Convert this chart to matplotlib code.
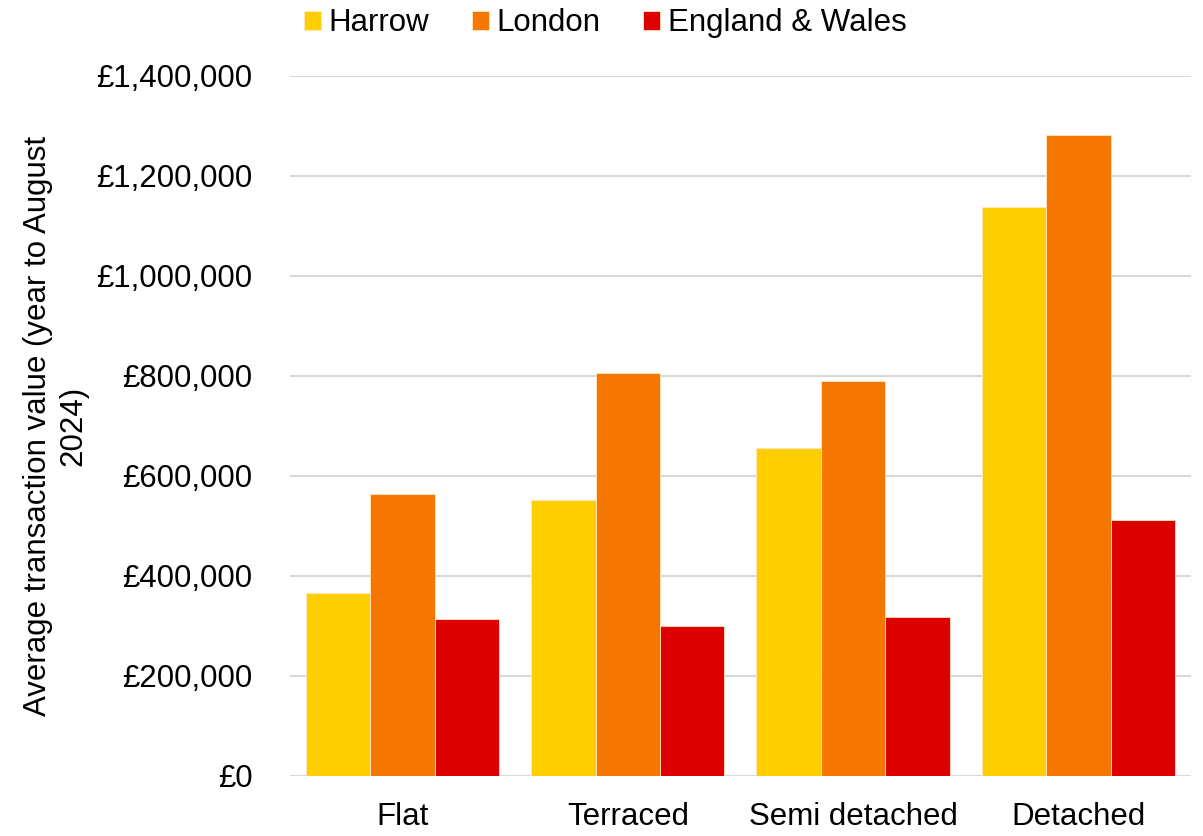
import matplotlib.pyplot as plt
import numpy as np
from matplotlib.ticker import FuncFormatter

plt.rcParams['font.family'] = ['Liberation Sans', 'DejaVu Sans']

categories = ["Flat", "Terraced", "Semi detached", "Detached"]
series_names = ["Harrow", "London", "England & Wales"]
harrow = [365000, 551000, 656000, 1138000]
london = [564000, 806000, 789000, 1282000]
england_wales = [314000, 299000, 318000, 512000]
colors = ["#FFCE00", "#F57600", "#DC0000"]

fs = 22.5

fig = plt.figure(figsize=(12.03, 8.36), dpi=100)
ax = fig.add_axes([0.241, 0.0718, 0.749, 0.8375])

x = np.arange(len(categories))
w = 0.286
for i, (vals, name) in enumerate(zip([harrow, london, england_wales], series_names)):
    ax.bar(x + (i - 1) * w, vals, width=w, color=colors[i], label=name,
           edgecolor="#FFE9C0", linewidth=0.6, zorder=3)

ax.set_xlim(-0.5, 3.5)
ax.set_ylim(0, 1400000)
ax.set_yticks(np.arange(0, 1400001, 200000))
ax.yaxis.set_major_formatter(FuncFormatter(lambda v, p: "£{:,.0f}".format(v)))
ax.set_xticks(x)
ax.set_xticklabels(categories)
ax.grid(axis="y", color="#D9D9D9", linewidth=1.5, zorder=0)
for s in ax.spines.values():
    s.set_visible(False)
ax.tick_params(axis="both", length=0, labelsize=fs, colors="black")
ax.tick_params(axis="y", pad=27)
ax.tick_params(axis="x", pad=19)

ax.set_ylabel("Average transaction value (year to August\n2024)", fontsize=fs)
ax.yaxis.set_label_coords(-0.224, 0.5)

ax.legend(loc="center", bbox_to_anchor=(0.35, 1.075), ncol=3, frameon=False,
          fontsize=fs, handlelength=0.55, handleheight=0.55, handletextpad=0.25,
          columnspacing=1.35, borderaxespad=0)

fig.savefig("out.png", dpi=100)
